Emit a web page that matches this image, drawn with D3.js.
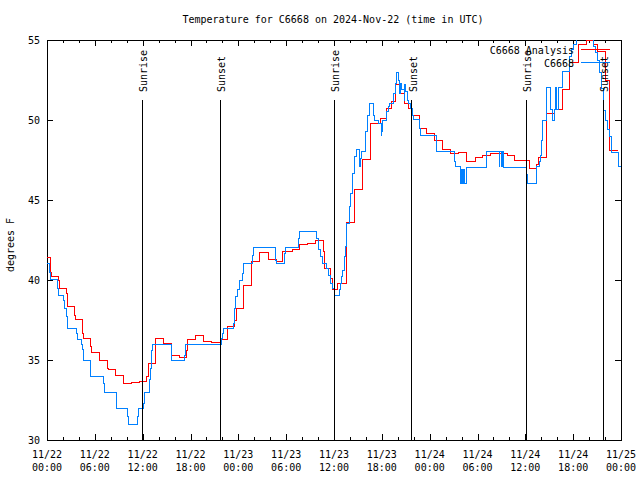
<!DOCTYPE html>
<html>
<head>
<meta charset="utf-8">
<script src="https://cdn.jsdelivr.net/npm/d3@7"></script>
<style>
  html, body { margin: 0; padding: 0; background: #fff; }
  text { font-family: "DejaVu Sans Mono", "Liberation Mono", monospace; font-size: 10px; fill: #000; }
</style>
</head>
<body>
<svg id="chart" width="640" height="480"></svg>
<script>
// ---- data (time = hours since 2024-11-22 00:00 UTC) ----
const title = "Temperature for C6668 on 2024-Nov-22 (time in UTC)";
const yLabel = "degrees F";

const analysisTimes = [0,0.5,0.6,1.4,1.6,2.5,2.6,3.5,3.6,4.5,4.6,5.5,5.6,6.6,7.6,7.7,8.65,9.6,10.6,11.6,12.5,12.7,13.55,14.6,15.6,16.6,17.5,17.6,18.6,19.6,20.65,21.75,22.65,23.55,23.75,24.7,25.65,26.6,27.75,28.8,29.6,30.8,31.7,32.7,33.7,34.65,34.85,35.5,35.8,36.5,37.6,38.55,39.6,40.64,41.8,42.6,43.15,43.7,44.25,44.8,45.3,45.9,46.7,47.55,48.65,49.6,50.6,51.6,52.65,53.7,54.6,55.6,57.75,58.7,60.5,61.4,61.6,62.6,63.6,64.6,65.6,66.65,67.65,68.6,69.0,70.0,70.55,71.6];
const analysisValues = [41.42,40.48,40.25,39.96,39.48,39.17,38.35,37.81,37.54,36.67,36.35,35.83,35.48,35.0,34.48,34.38,34.06,33.54,33.6,33.67,33.96,34.79,36.33,36.04,35.31,35.17,35.6,36.29,36.54,36.15,36.1,36.31,37.08,37.5,38.23,39.63,41.15,41.71,41.29,41.15,41.81,41.88,42.19,42.29,42.46,41.8,40.73,40.1,39.38,39.79,43.6,45.63,47.56,49.79,50.1,50.73,51.15,52.25,51.67,51.04,50.73,50.31,49.48,49.16,48.75,48.13,47.92,47.96,47.4,47.67,47.81,47.92,47.77,47.44,46.94,47.2,47.65,50.42,50.65,51.9,53.58,54.69,54.95,54.69,54.3,52.5,48.08,48.08];

const stationTimes = [0,0.3,0.5,1.3,1.42,2.05,2.15,2.4,2.6,3.72,3.85,4.35,4.5,4.6,5.4,5.5,7.06,7.2,8.66,8.74,10.08,10.2,11.33,11.45,12.08,12.2,12.83,13.0,13.1,13.25,15.64,17.3,17.4,21.9,22.05,22.2,23.4,23.5,23.65,23.9,24.2,24.5,24.7,25.8,25.95,28.6,28.7,28.8,29.85,29.95,31.6,31.7,33.83,34.0,34.1,34.3,34.58,35.0,35.3,35.6,35.8,36.05,36.75,36.85,37.0,37.1,37.3,37.45,37.6,37.9,38.1,38.3,38.55,38.76,39.2,39.3,39.4,40.0,40.2,40.4,40.93,41.05,41.56,41.9,42.0,42.1,42.6,42.8,43.0,43.45,43.7,43.86,44.1,44.2,44.3,44.5,44.8,44.9,45.0,45.2,45.4,45.62,45.85,45.95,46.7,46.85,48.8,48.9,51.1,51.2,51.9,52.0,52.1,52.25,52.43,52.65,55.15,56.7,56.8,57.03,57.12,57.25,60.17,60.25,61.35,61.4,61.75,61.9,62.05,62.2,62.6,62.68,63.1,63.35,63.6,63.75,63.9,64.1,64.6,64.7,65.6,65.75,66.0,66.4,68.5,68.75,69.0,69.3,69.55,69.85,70.0,70.3,70.5,70.8,71.65,72.0];
const stationValues = [41.04,40.5,40.04,39.5,39.06,38.75,38.23,37.7,36.98,36.67,36.29,36.0,35.63,35.0,34.48,34.0,33.54,32.98,32.5,31.98,31.5,30.98,31.5,32.0,32.3,33.0,33.8,34.5,35.6,36.0,35.0,35.3,36.0,36.35,36.67,37.0,37.3,38.23,38.96,39.38,40.0,40.42,41.04,41.56,42.04,41.77,41.25,41.04,41.65,42.04,42.6,43.02,42.6,42.3,41.9,41.5,41.04,40.7,40.3,39.8,39.5,39.06,39.38,39.79,40.2,40.6,41.46,42.08,43.54,44.58,45.4,46.67,47.71,48.13,47.08,47.6,48.02,49.27,50.31,51.04,50.3,50.0,49.79,49.06,49.27,50.0,50.52,50.83,51.04,51.67,52.29,53.0,52.5,51.67,52.3,51.88,51.25,52.2,51.77,51.25,51.04,50.73,50.31,50.04,49.5,49.06,48.5,48.06,47.4,47.08,46.04,46.9,46.04,46.9,46.04,47.03,48.02,47.08,48.02,47.08,48.02,47.04,46.6,46.04,46.6,47.08,47.4,47.8,48.75,50.0,51.46,52.04,50.63,50.0,50.63,52.04,50.63,52.04,52.9,53.05,53.96,54.4,54.7,55.6,54.6,54.2,53.7,53.0,52.0,50.6,50.0,49.4,49.0,48.0,47.08,47.08];

const sunriseTimes = [11.95, 36.04, 60.12];
const sunsetTimes = [21.74, 45.75, 69.78];

const xMajorTicks = [0,6,12,18,24,30,36,42,48,54,60,66,72];
const xTickDates = ["11/22","11/22","11/22","11/22","11/23","11/23","11/23","11/23","11/24","11/24","11/24","11/24","11/25"];
const xTickTimes = ["00:00","06:00","12:00","18:00","00:00","06:00","12:00","18:00","00:00","06:00","12:00","18:00","00:00"];
const xMinorTicks = d3.range(0, 73, 2);
const yTicks = [30,35,40,45,50,55];
const yTickLabels = ["30","35","40","45","50","55"];

const seriesNames = ["C6668 Analysis", "C6668"];
const seriesColors = ["#ff0000", "#0080ff"];

// ---- layout ----
const L = 47, R = 621, T = 40, B = 440;
const svg = d3.select("#chart");
const x = d3.scaleLinear().domain([0, 72]).range([L, R]);
const y = d3.scaleLinear().domain([30, 55]).range([B, T]);

svg.append("defs").append("clipPath").attr("id", "plotclip")
  .append("rect").attr("x", L).attr("y", T).attr("width", R - L).attr("height", B - T);

// title
svg.append("text").attr("x", 333).attr("y", 23).attr("text-anchor", "middle").text(title);
// y label
svg.append("text").attr("transform", "translate(14,245) rotate(-90)").attr("text-anchor", "middle").text(yLabel);

function styleAxis(g) {
  g.select(".domain").remove();
  g.selectAll("line").attr("stroke", "#000").attr("shape-rendering", "crispEdges");
  g.selectAll("text").attr("font-family", null).attr("font-size", null).attr("fill", "#000");
}

// x axes (ticks only, inward)
svg.append("g").attr("transform", `translate(0,${B})`)
  .call(d3.axisBottom(x).tickValues(xMinorTicks).tickSize(-3).tickSizeOuter(0).tickFormat(""))
  .call(styleAxis);
svg.append("g").attr("transform", `translate(0,${B})`)
  .call(d3.axisBottom(x).tickValues(xMajorTicks).tickSize(-6).tickSizeOuter(0).tickFormat(""))
  .call(styleAxis);
svg.append("g").attr("transform", `translate(0,${T})`)
  .call(d3.axisTop(x).tickValues(xMinorTicks).tickSize(-3).tickSizeOuter(0).tickFormat(""))
  .call(styleAxis);
svg.append("g").attr("transform", `translate(0,${T})`)
  .call(d3.axisTop(x).tickValues(xMajorTicks).tickSize(-6).tickSizeOuter(0).tickFormat(""))
  .call(styleAxis);

// x tick labels (two lines)
const xl = svg.append("g");
xMajorTicks.forEach((t, i) => {
  const tx = xl.append("text").attr("x", x(t)).attr("text-anchor", "middle");
  tx.append("tspan").attr("x", x(t)).attr("y", 458).text(xTickDates[i]);
  tx.append("tspan").attr("x", x(t)).attr("y", 471).text(xTickTimes[i]);
});

// y axes
svg.append("g").attr("transform", `translate(${L},0)`)
  .call(d3.axisLeft(y).tickValues(yTicks).tickSize(-6).tickSizeOuter(0).tickPadding(7)
    .tickFormat((d, i) => yTickLabels[i]))
  .call(styleAxis);
svg.append("g").attr("transform", `translate(${R},0)`)
  .call(d3.axisRight(y).tickValues(yTicks).tickSize(-6).tickSizeOuter(0).tickFormat(""))
  .call(styleAxis);

// border
svg.append("rect").attr("x", L).attr("y", T).attr("width", R - L).attr("height", B - T)
  .attr("fill", "none").attr("stroke", "#000").attr("shape-rendering", "crispEdges");

// series
const line = d3.line().curve(d3.curveStepAfter).x(d => x(d[0])).y(d => y(d[1]));
const analysis = analysisTimes.map((t, i) => [t, analysisValues[i]]);
const station = stationTimes.map((t, i) => [t, stationValues[i]]);
const plot = svg.append("g").attr("clip-path", "url(#plotclip)");
[analysis, station].forEach((data, i) => {
  plot.append("path").datum(data).attr("d", line)
    .attr("fill", "none").attr("stroke", seriesColors[i]).attr("stroke-width", 1)
    .attr("shape-rendering", "crispEdges");
});

// legend
const legY = [49.5, 62.5];
seriesNames.forEach((name, i) => {
  svg.append("text").attr("x", 574).attr("y", legY[i] + 4).attr("text-anchor", "end").text(name);
  svg.append("line").attr("x1", 581).attr("x2", 610).attr("y1", legY[i]).attr("y2", legY[i])
    .attr("stroke", seriesColors[i]).attr("shape-rendering", "crispEdges");
});

// sunrise / sunset markers
const events = sunriseTimes.map(t => [t, "Sunrise"]).concat(sunsetTimes.map(t => [t, "Sunset"]));
events.forEach(([t, label]) => {
  svg.append("line").attr("x1", x(t)).attr("x2", x(t)).attr("y1", y(51.25)).attr("y2", B)
    .attr("stroke", "#000").attr("shape-rendering", "crispEdges");
  svg.append("text").attr("transform", `translate(${x(t) + 5},92) rotate(-90)`)
    .attr("text-anchor", "start").text(label);
});
</script>
</body>
</html>
